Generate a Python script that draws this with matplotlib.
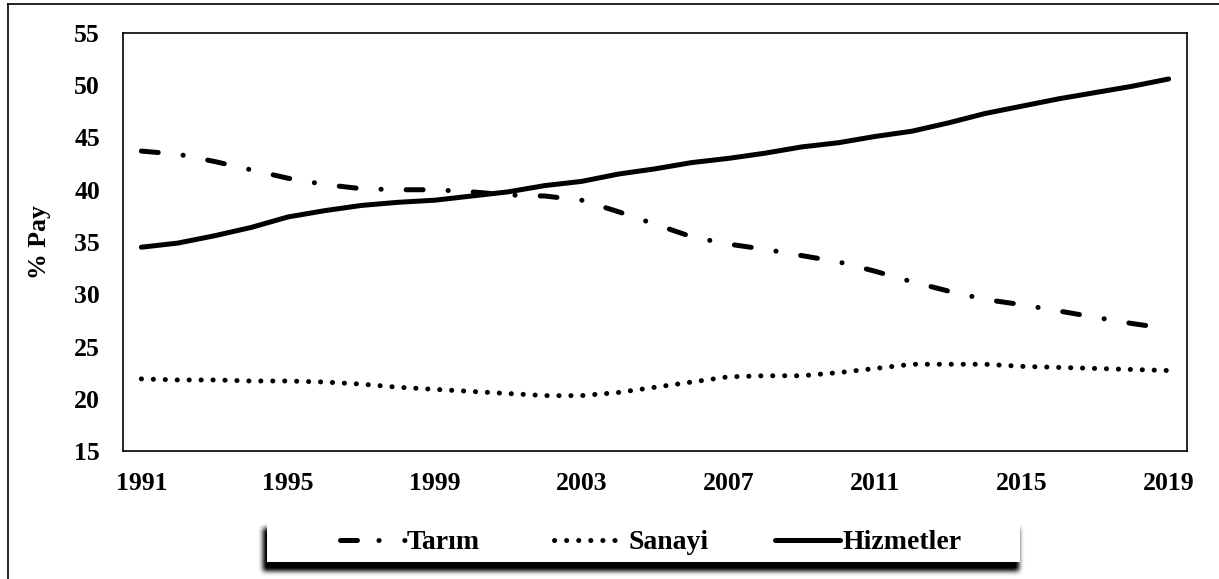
import matplotlib
matplotlib.use("Agg")
import numpy as np
import matplotlib.pyplot as plt
from matplotlib.patches import Rectangle
from matplotlib.lines import Line2D

years = list(range(1991, 2020))
tarim = [43.7, 43.4, 42.7, 41.9, 41.1, 40.5, 40.1, 40.0, 40.0, 39.8,
         39.5, 39.4, 39.0, 37.9, 36.7, 35.5, 34.8, 34.3, 33.7, 33.1,
         32.2, 31.2, 30.3, 29.5, 29.0, 28.4, 27.8, 27.2, 26.7]
sanayi = [21.9, 21.8, 21.8, 21.7, 21.7, 21.6, 21.4, 21.1, 20.9, 20.7,
          20.5, 20.3, 20.3, 20.6, 21.1, 21.6, 22.1, 22.2, 22.2, 22.5,
          22.9, 23.3, 23.3, 23.3, 23.1, 23.0, 22.9, 22.8, 22.7]
hizmetler = [34.5, 34.9, 35.6, 36.4, 37.4, 38.0, 38.5, 38.8, 39.0, 39.4,
             39.8, 40.4, 40.8, 41.5, 42.0, 42.6, 43.0, 43.5, 44.1, 44.5,
             45.1, 45.6, 46.4, 47.3, 48.0, 48.7, 49.3, 49.9, 50.6]
series_names = ["Tarım", "Sanayi", "Hizmetler"]
x_ticks = list(range(1991, 2020, 4))
y_ticks = list(range(15, 56, 5))
y_label = "% Pay"

plt.rcParams['lines.scale_dashes'] = False
FONT = ['Liberation Serif', 'DejaVu Serif']
W, H = 1219, 579
fig = plt.figure(figsize=(W / 100, H / 100), dpi=100)
ax = fig.add_axes([123 / W, 1 - 451 / H, (1187 - 123) / W, (451 - 33) / H])

lw = 3.6
styles = [
    dict(dashes=(12.2, 18, 0.1, 18), dash_capstyle='round'),
    dict(dashes=(0.1, 8.5), dash_capstyle='round'),
    dict(solid_capstyle='round'),
]
for vals, name, st in zip([tarim, sanayi, hizmetler], series_names, styles):
    ax.plot(years, vals, color='black', lw=lw, label=name, **st)

ax.set_xlim(1990.5, 2019.5)
ax.set_ylim(15, 55)
ax.set_xticks(x_ticks)
ax.set_yticks(y_ticks)
ax.tick_params(length=0, labelsize=18.5)
ax.tick_params(axis='y', pad=16.5)
ax.tick_params(axis='x', pad=15)
for lab in ax.get_xticklabels() + ax.get_yticklabels():
    lab.set_fontfamily(FONT)
    lab.set_fontweight('bold')
for s in ax.spines.values():
    s.set_linewidth(1.2)
ax.set_ylabel(y_label, fontsize=18.5, fontweight='bold', family=FONT, labelpad=17)

# ---- manual legend (pixel layout) ----
bx0, bx1 = 267, 1020
by_top, by_bot = 522, 562
# blurred shadow via image
mask = np.zeros((H, W))
mask[by_top + 6:by_bot + 9, bx0 - 4:bx1 - 1] = 1.0
k = np.ones(5) / 5
for _ in range(3):
    mask = np.apply_along_axis(lambda r: np.convolve(r, k, mode='same'), 1, mask)
    mask = np.apply_along_axis(lambda c: np.convolve(c, k, mode='same'), 0, mask)
rgba = np.zeros((H, W, 4))
rgba[..., 3] = np.clip(mask * 1.1, 0, 1)
fig.figimage(rgba, xo=0, yo=0, origin='upper', zorder=8)
fig.add_artist(Rectangle((bx0, H - by_bot), bx1 - bx0, by_bot - by_top,
                         transform=None, facecolor='white', edgecolor='none',
                         zorder=9))

hy = H - 540
handle_specs = [
    (339.5, 406.0, dict(dashes=(12.2, 15.5, 0.1, 18.5, 0.1, 40), dash_capstyle='round')),
    (554.0, 615.0, dict(dashes=(0.1, 8.6), dash_capstyle='round')),
    (775.0, 840.0, dict(solid_capstyle='round')),
]
text_x = [407, 628, 843]
for (hx0, hx1, st), tx, name in zip(handle_specs, text_x, series_names):
    fig.add_artist(Line2D([hx0, hx1], [hy, hy], transform=None, color='black',
                          lw=lw, zorder=10, **st))
    fig.text(tx / W, 1 - 549 / H, name, family=FONT, fontweight='bold',
             fontsize=20, ha='left', va='baseline', zorder=11)

# outer frame (left and top visible)
fig.add_artist(Line2D([8 / W, 8 / W], [0, 1 - 4 / H], color='black', lw=1.2))
fig.add_artist(Line2D([8 / W, 1], [1 - 4 / H, 1 - 4 / H], color='black', lw=1.2))

fig.savefig('out.png', dpi=100)
